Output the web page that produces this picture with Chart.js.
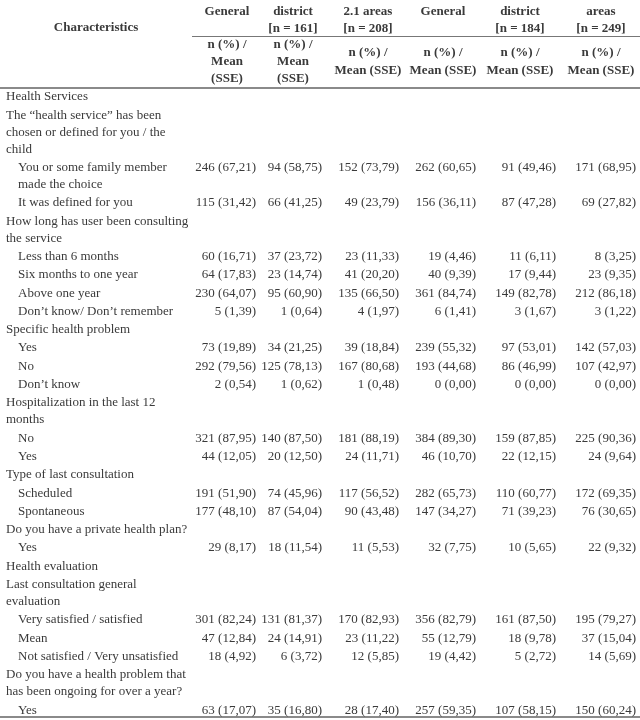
<!DOCTYPE html>
<html>
<head>
<meta charset="utf-8">
<script src="https://cdn.jsdelivr.net/npm/chart.js@4"></script>
<style>
  body { margin: 0; background: #fff; }
  canvas { display: block; }
</style>
</head>
<body>
<canvas id="myChart" width="640" height="720"></canvas>
<script>
// row labels (wrapped lines) and indent level
const rowLabels = [
  ['Health Services'],
  ['The \u201chealth service\u201d has been', 'chosen or defined for you / the', 'child'],
  ['You or some family member', 'made the choice'],
  ['It was defined for you'],
  ['How long has user been consulting', 'the service'],
  ['Less than 6 months'],
  ['Six months to one year'],
  ['Above one year'],
  ['Don\u2019t know/ Don\u2019t remember'],
  ['Specific health problem'],
  ['Yes'],
  ['No'],
  ['Don\u2019t know'],
  ['Hospitalization in the last 12', 'months'],
  ['No'],
  ['Yes'],
  ['Type of last consultation'],
  ['Scheduled'],
  ['Spontaneous'],
  ['Do you have a private health plan?'],
  ['Yes'],
  ['Health evaluation'],
  ['Last consultation general', 'evaluation'],
  ['Very satisfied / satisfied'],
  ['Mean'],
  ['Not satisfied / Very unsatisfied'],
  ['Do you have a health problem that', 'has been ongoing for over a year?'],
  ['Yes']
];
const rowIndent = [0,0,1,1,0,1,1,1,1,0,1,1,1,0,1,1,0,1,1,0,1,0,0,1,1,1,0,1];

// column headers
const colTop = ['General', 'district', '2.1 areas', 'General', 'district', 'areas'];
const colN = ['', '[n = 161]', '[n = 208]', '', '[n = 184]', '[n = 249]'];
const colSub = [
  ['n (%) /', 'Mean', '(SSE)'],
  ['n (%) /', 'Mean', '(SSE)'],
  ['n (%) /', 'Mean (SSE)'],
  ['n (%) /', 'Mean (SSE)'],
  ['n (%) /', 'Mean (SSE)'],
  ['n (%) /', 'Mean (SSE)']
];

// cell values per column, null where the row is a heading
const col1 = [null,null,'246 (67,21)','115 (31,42)',null,'60 (16,71)','64 (17,83)','230 (64,07)','5 (1,39)',null,'73 (19,89)','292 (79,56)','2 (0,54)',null,'321 (87,95)','44 (12,05)',null,'191 (51,90)','177 (48,10)',null,'29 (8,17)',null,null,'301 (82,24)','47 (12,84)','18 (4,92)',null,'63 (17,07)'];
const col2 = [null,null,'94 (58,75)','66 (41,25)',null,'37 (23,72)','23 (14,74)','95 (60,90)','1 (0,64)',null,'34 (21,25)','125 (78,13)','1 (0,62)',null,'140 (87,50)','20 (12,50)',null,'74 (45,96)','87 (54,04)',null,'18 (11,54)',null,null,'131 (81,37)','24 (14,91)','6 (3,72)',null,'35 (16,80)'];
const col3 = [null,null,'152 (73,79)','49 (23,79)',null,'23 (11,33)','41 (20,20)','135 (66,50)','4 (1,97)',null,'39 (18,84)','167 (80,68)','1 (0,48)',null,'181 (88,19)','24 (11,71)',null,'117 (56,52)','90 (43,48)',null,'11 (5,53)',null,null,'170 (82,93)','23 (11,22)','12 (5,85)',null,'28 (17,40)'];
const col4 = [null,null,'262 (60,65)','156 (36,11)',null,'19 (4,46)','40 (9,39)','361 (84,74)','6 (1,41)',null,'239 (55,32)','193 (44,68)','0 (0,00)',null,'384 (89,30)','46 (10,70)',null,'282 (65,73)','147 (34,27)',null,'32 (7,75)',null,null,'356 (82,79)','55 (12,79)','19 (4,42)',null,'257 (59,35)'];
const col5 = [null,null,'91 (49,46)','87 (47,28)',null,'11 (6,11)','17 (9,44)','149 (82,78)','3 (1,67)',null,'97 (53,01)','86 (46,99)','0 (0,00)',null,'159 (87,85)','22 (12,15)',null,'110 (60,77)','71 (39,23)',null,'10 (5,65)',null,null,'161 (87,50)','18 (9,78)','5 (2,72)',null,'107 (58,15)'];
const col6 = [null,null,'171 (68,95)','69 (27,82)',null,'8 (3,25)','23 (9,35)','212 (86,18)','3 (1,22)',null,'142 (57,03)','107 (42,97)','0 (0,00)',null,'225 (90,36)','24 (9,64)',null,'172 (69,35)','76 (30,65)',null,'22 (9,32)',null,null,'195 (79,27)','37 (15,04)','14 (5,69)',null,'150 (60,24)'];
const columns = [col1, col2, col3, col4, col5, col6];

// layout (table units = pixels on the x/y scales)
const colRight = [256, 322, 399, 476, 556, 636];
const colCenter = [227, 293, 368, 443, 520, 601];
const firstRowY = 97, rowStep = 18.3, wrapStep = 17;
const bodyFont = '13px "Liberation Serif", "DejaVu Serif", serif';
const boldFont = 'bold 13px "Liberation Serif", "DejaVu Serif", serif';
const textColor = '#3a3a3a';

// y of every text line
const lineY = [];
let yy = firstRowY;
rowLabels.forEach((lines, r) => {
  lineY.push(lines.map((_, i) => { if (i > 0) yy += wrapStep; return yy; }));
  yy += rowStep;
});

const labelPoints = [], labelTexts = [];
rowLabels.forEach((lines, r) => {
  lines.forEach((t, i) => {
    labelPoints.push({ x: rowIndent[r] ? 18 : 6, y: lineY[r][i] });
    labelTexts.push(t);
  });
});

const valueSets = columns.map((col, c) => {
  const pts = [], txt = [];
  col.forEach((v, r) => {
    if (v !== null) { pts.push({ x: colRight[c], y: lineY[r][0] }); txt.push(v); }
  });
  return { pts, txt };
});

const headerPoints = [], headerTexts = [];
colTop.forEach((t, c) => {
  headerPoints.push({ x: colCenter[c], y: 12 }); headerTexts.push(t);
  if (colN[c]) { headerPoints.push({ x: colCenter[c], y: 29 }); headerTexts.push(colN[c]); }
  const sub = colSub[c];
  const sy = sub.length === 3 ? [45, 62, 79] : [53, 71];
  sub.forEach((s, i) => { headerPoints.push({ x: colCenter[c], y: sy[i] }); headerTexts.push(s); });
});
headerPoints.push({ x: 96, y: 28 }); headerTexts.push('Characteristics');

const datasets = [
  { label: 'labels', data: labelPoints, texts: labelTexts, align: 'left', font: bodyFont },
  { label: 'header', data: headerPoints, texts: headerTexts, align: 'center', font: boldFont }
].concat(valueSets.map((s, c) => ({ label: 'col' + c, data: s.pts, texts: s.txt, align: 'right', font: bodyFont })));
datasets.forEach(d => { d.pointRadius = 0; d.pointHoverRadius = 0; });

const tablePlugin = {
  id: 'tableText',
  beforeDatasetsDraw(chart) {
    const { ctx, scales: { x, y } } = chart;
    ctx.save();
    ctx.strokeStyle = '#777';
    ctx.lineWidth = 1;
    ctx.beginPath();
    ctx.moveTo(x.getPixelForValue(192), y.getPixelForValue(36.5));
    ctx.lineTo(x.getPixelForValue(640), y.getPixelForValue(36.5));
    ctx.stroke();
    ctx.strokeStyle = '#8a8a8a';
    ctx.lineWidth = 2;
    [88, 717].forEach(v => {
      ctx.beginPath();
      ctx.moveTo(x.getPixelForValue(0), y.getPixelForValue(v));
      ctx.lineTo(x.getPixelForValue(640), y.getPixelForValue(v));
      ctx.stroke();
    });
    ctx.restore();
  },
  afterDatasetsDraw(chart) {
    const ctx = chart.ctx;
    ctx.save();
    ctx.fillStyle = textColor;
    ctx.textBaseline = 'middle';
    chart.data.datasets.forEach((ds, i) => {
      const meta = chart.getDatasetMeta(i);
      ctx.font = ds.font;
      ctx.textAlign = ds.align;
      meta.data.forEach((pt, j) => ctx.fillText(ds.texts[j], pt.x, pt.y));
    });
    ctx.restore();
  }
};

const ctx = document.getElementById('myChart').getContext('2d');
new Chart(ctx, {
  type: 'scatter',
  data: { datasets },
  options: {
    responsive: false,
    animation: false,
    layout: { padding: 0 },
    plugins: { legend: { display: false }, tooltip: { enabled: false } },
    scales: {
      x: { type: 'linear', min: 0, max: 640, display: false },
      y: { type: 'linear', min: 0, max: 720, reverse: true, display: false }
    }
  },
  plugins: [tablePlugin]
});
</script>
</body>
</html>
